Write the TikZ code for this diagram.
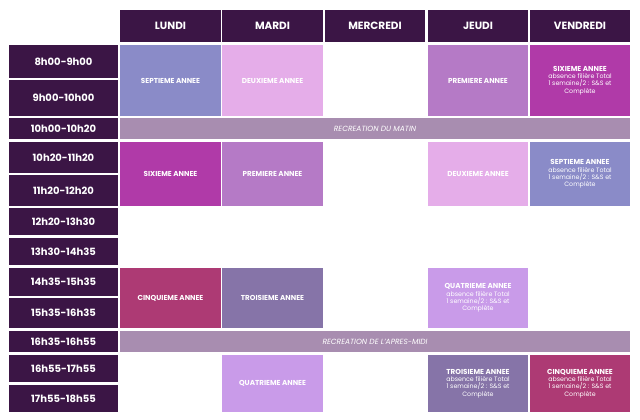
\documentclass[tikz,border=0pt]{standalone}
\usepackage{fontspec}
\setmainfont{Poppins}
\definecolor{hdr}{HTML}{3B1545}
\definecolor{sept}{HTML}{8A8BC8}
\definecolor{deux}{HTML}{E5ADE9}
\definecolor{prem}{HTML}{B57AC6}
\definecolor{six}{HTML}{B03AA8}
\definecolor{recr}{HTML}{A88DB0}
\definecolor{cinq}{HTML}{AD3A74}
\definecolor{trois}{HTML}{8674A8}
\definecolor{quat}{HTML}{C99BE9}
\newcommand{\crs}[1]{\textbf{\fontsize{7.2}{8.5}\selectfont #1}}
\newcommand{\smtxt}[1]{{\fontsize{6.3}{7}\selectfont #1}}
\begin{document}
\begin{tikzpicture}[x=1pt,y=-1pt,
  box/.style={draw=none,text=white,align=center,inner sep=0pt,font=\fontsize{6.3}{7.3}\selectfont}]
\useasboundingbox (0,0) rectangle (640,420);
\newcommand{\cell}[7]{% name x1 y1 x2 y2 color text
  \fill[#6] (#2,#3) rectangle (#4,#5);
  \node[box] (#1) at ({(#2+#4)/2},{(#3+#5)/2}) {#7};}
% headers
\cell{hl}{120}{10}{221}{42}{hdr}{\textbf{\fontsize{10.5}{12}\selectfont LUNDI}}
\cell{hm}{222}{10}{323}{42}{hdr}{\textbf{\fontsize{10.5}{12}\selectfont MARDI}}
\cell{hw}{325}{10}{425}{42}{hdr}{\textbf{\fontsize{10.5}{12}\selectfont MERCREDI}}
\cell{hj}{428}{10}{528}{42}{hdr}{\textbf{\fontsize{10.5}{12}\selectfont JEUDI}}
\cell{hv}{530}{10}{630}{42}{hdr}{\textbf{\fontsize{10.5}{12}\selectfont VENDREDI}}
% times
\newcommand{\tm}[4]{\cell{#1}{9}{#2}{118}{#3}{hdr}{\textbf{\fontsize{10}{12}\selectfont #4}}}
\tm{t1}{45}{78}{8h00-9h00}
\tm{t2}{80}{116}{9h00-10h00}
\tm{t3}{118}{139}{10h00-10h20}
\tm{t4}{142}{173}{10h20-11h20}
\tm{t5}{175}{206}{11h20-12h20}
\tm{t6}{208}{235}{12h20-13h30}
\tm{t7}{238}{265}{13h30-14h35}
\tm{t8}{268}{296}{14h35-15h35}
\tm{t9}{298}{328}{15h35-16h35}
\tm{t10}{331}{352}{16h35-16h55}
\tm{t11}{355}{382}{16h55-17h55}
\tm{t12}{385}{412}{17h55-18h55}
% courses
\cell{a1}{120}{45}{221}{116}{sept}{\crs{SEPTIEME ANNEE}}
\cell{a2}{222}{45}{323}{116}{deux}{\crs{DEUXIEME ANNEE}}
\cell{a4}{428}{45}{528}{116}{prem}{\crs{PREMIERE ANNEE}}
\cell{a5}{530}{45}{630}{116}{six}{\crs{SIXIEME ANNEE}\\absence filière Total\\1 semaine/2 : S\&S et\\Complète}
\cell{r1}{120}{118}{630}{139}{recr}{\itshape\fontsize{7.5}{9}\selectfont RECREATION DU MATIN}
\cell{b1}{120}{142}{221}{206}{six}{\crs{SIXIEME ANNEE}}
\cell{b2}{222}{142}{323}{206}{prem}{\crs{PREMIERE ANNEE}}
\cell{b4}{428}{142}{528}{206}{deux}{\crs{DEUXIEME ANNEE}}
\cell{b5}{530}{142}{630}{206}{sept}{\crs{SEPTIEME ANNEE}\\absence filière Total\\1 semaine/2 : S\&S et\\Complète}
\cell{c1}{120}{268}{221}{328}{cinq}{\crs{CINQUIEME ANNEE}}
\cell{c2}{222}{268}{323}{328}{trois}{\crs{TROISIEME ANNEE}}
\cell{c4}{428}{268}{528}{328}{quat}{\crs{QUATRIEME ANNEE}\\absence filière Total\\1 semaine/2 : S\&S et\\Complète}
\cell{r2}{120}{331}{630}{352}{recr}{\itshape\fontsize{7.5}{9}\selectfont RECREATION DE L'APRES-MIDI}
\cell{d2}{222}{355}{323}{412}{quat}{\crs{QUATRIEME ANNEE}}
\cell{d4}{428}{355}{528}{412}{trois}{\crs{TROISIEME ANNEE}\\absence filière Total\\1 semaine/2 : S\&S et\\Complète}
\cell{d5}{530}{355}{630}{412}{cinq}{\crs{CINQUIEME ANNEE}\\absence filière Total\\1 semaine/2 : S\&S et\\Complète}
\end{tikzpicture}
\end{document}
